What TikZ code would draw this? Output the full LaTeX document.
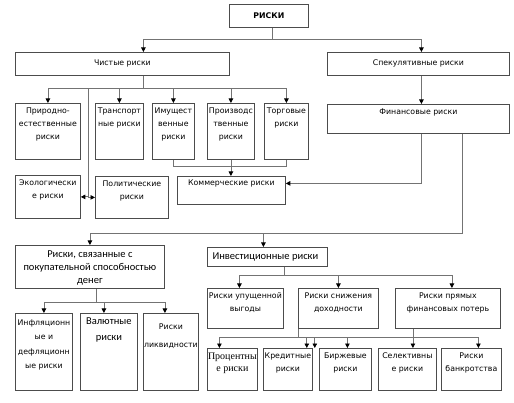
\documentclass[tikz,border=0pt]{standalone}
\usepackage{fontspec}
\setmainfont{DejaVu Sans}
\newfontfamily\calib{Carlito}
\newfontfamily\tnr{Liberation Serif}
\usetikzlibrary{arrows.meta, calc}

\begin{document}
\begin{tikzpicture}[x=1pt, y=-1pt,
  box/.style={
    rectangle, draw=black!70, line width=0.8pt, anchor=north west,
    inner sep=0pt, font=\fontsize{7.8}{13}\selectfont,
  },
  wh/.style 2 args={minimum width=#1pt, minimum height=#2pt},
  lab/.style={
    anchor=north, align=center, inner sep=0pt, yshift=-#1pt,
    font=\fontsize{7.8}{13}\selectfont,
  },
  lab/.default=5,
  big/.style={font=\calib\fontsize{10.5}{13}\selectfont},
  conn/.style={draw=black!55, line width=0.8pt},
  arrow/.style={conn, -{Triangle[width=4.5pt, length=4.5pt, color=black]}},
]
\useasboundingbox (0,0) rectangle (514,403);

\node[box, wh={79}{23}]  (risks) at (229,4)  {\textbf{РИСКИ}};
\node[box, wh={214}{23}] (pure)  at (15,52)  {Чистые риски};
\node[box, wh={182}{23}] (spec)  at (327,52) {Спекулятивные риски};

% second row
\node[box, wh={65}{56}, label={[lab]north:{Природно-\\естественные\\риски}}] (natural)    at (15,103)  {};
\node[box, wh={48}{56}, label={[lab]north:{Транспорт\\ные риски}}]          (transport)  at (95,103)  {};
\node[box, wh={42}{56}, label={[lab]north:{Имущест\\венные\\риски}}]        (property)   at (152,103) {};
\node[box, wh={47}{56}, label={[lab]north:{Производс\\твенные\\риски}}]     (production) at (207,103) {};
\node[box, wh={44}{56}, label={[lab]north:{Торговые\\риски}}]               (trade)      at (264,103) {};
\node[box, wh={182}{29}, label={[lab=4.5]north:{Финансовые риски}}]         (finance)    at (327,104) {};

\node[box, wh={65}{43}, label={[lab]north:{Экологически\\е риски}}]         (eco)        at (15,175)  {};
\node[box, wh={73}{42}, label={[lab]north:{Политические\\риски}}]           (politic)    at (95,176)  {};
\node[box, wh={108}{28}, label={[lab=3.5]north:{Коммерческие риски}}]       (commerce)   at (177,176) {};

% third row
\node[box, wh={149}{43}, label={[lab=5.8, big]north:{Риски, связанные с\\покупательной способностью\\денег}}] (money) at (15,245) {};
\node[box, wh={120}{19}, label={[big, anchor=west, xshift=2pt]west:{Инвестиционные риски}}] (invest) at (207,247) {};

\node[box, wh={57}{77}, label={[lab=6.4, font=\fontsize{7.8}{14.5}\selectfont]north:{Инфляционн\\ые и\\дефляционн\\ые риски}}] (infl) at (15,313) {};
\node[box, wh={57}{77}, label={[lab=5, font=\calib\fontsize{10.5}{16}\selectfont]north:{Валютные\\риски}}] (currency) at (80,313) {};
\node[box, wh={55}{77}, label={[lab=10.4, font=\fontsize{7.8}{18}\selectfont]north:{Риски\\ликвидности}}] (liquid) at (143,313) {};

\node[box, wh={76}{40},  label={[lab=4.5]north:{Риски упущенной\\выгоды}}]      (lost)    at (207,288) {};
\node[box, wh={80}{40},  label={[lab=4.5]north:{Риски снижения\\доходности}}]   (decline) at (298,288) {};
\node[box, wh={105}{40}, label={[lab=4.5]north:{Риски прямых\\финансовых потерь}}] (direct) at (395,288) {};

% bottom row
\node[box, wh={50}{42}, label={[lab=4.7, font=\tnr\fontsize{10}{12}\selectfont]north:{Процентны\\е риски}}] (interest) at (207,348) {};
\node[box, wh={49}{42}, label={[lab]north:{Кредитные\\риски}}]   (credit)   at (263,348) {};
\node[box, wh={52}{42}, label={[lab]north:{Биржевые\\риски}}]    (exchange) at (319,348) {};
\node[box, wh={58}{42}, label={[lab]north:{Селективны\\е риски}}] (select)  at (378,348) {};
\node[box, wh={60}{42}, label={[lab]north:{Риски\\банкротства}}] (bankrupt) at (441,348) {};

% connectors
\draw[conn] ([xshift=3]risks.south) -- ++(0,12) coordinate (rj);
\draw[arrow] (rj) -| ([xshift=21]pure.north);
\draw[arrow] (rj) -| ([xshift=3]spec.north);

\draw[conn] ([xshift=21]pure.south) -- ++(0,13) coordinate (pj);
\foreach \n in {natural, transport, property, production, trade}
  \draw[arrow] (pj) -| (\n.north);
\coordinate (split) at ($(natural.east)!0.5!(transport.west)$);
\draw[arrow] (split |- pj) |- (eco.east);
\draw[arrow] (split |- pj) |- (politic.west);

\draw[conn] (property.south) -- ++(0,7) -| (trade.south);
\draw[arrow] (production.south) -- (production.south |- commerce.north);

\draw[arrow] ([xshift=3]spec.south) -- ([xshift=3]finance.north);
\draw[arrow] ([xshift=3]finance.south) |- ([yshift=7]commerce.east);

\draw[conn] ([xshift=44]finance.south) -- ++(0,100) coordinate (fj);
\draw[arrow] (fj) -| (money.north);
\draw[arrow] (fj) -| ([xshift=-4]invest.north);

\draw[conn] ([xshift=6]money.south) -- ++(0,14) coordinate (mj);
\draw[arrow] (mj) -| (infl.north);
\draw[arrow] (mj) -| ([xshift=-5]currency.north);
\draw[arrow] (mj) -| ([xshift=-6]liquid.north);

\draw[conn] ([xshift=17]invest.south) -- ++(0,9) coordinate (ij);
\draw[arrow] (ij) -| ([xshift=-6]lost.north);
\draw[arrow] (ij) -| (decline.north);
\draw[arrow] (ij) -| ([xshift=4]direct.north);

\draw[conn] (decline.south west) -- ++(0,9) coordinate (dj);
\draw[arrow] (dj) -| ([xshift=-13]interest.north);
\draw[arrow] (dj) -| ([xshift=-6]credit.north east);
\draw[arrow] (dj) -| ([xshift=2]credit.north east);
\draw[arrow] (dj) -| ([xshift=2]exchange.north);
\draw[arrow] (dj) -| ([xshift=7]bankrupt.north);
\draw[arrow] ([xshift=-35]direct.south) -- ([xshift=-35]direct.south |- select.north);
\end{tikzpicture}
\end{document}
